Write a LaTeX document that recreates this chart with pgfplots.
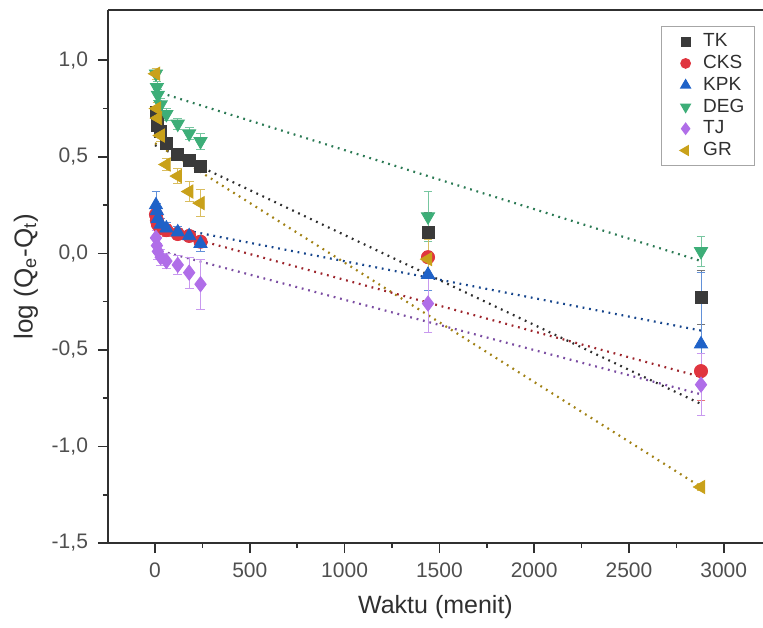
\documentclass[border=0pt]{standalone}
\usepackage{pgfplots}
\pgfplotsset{compat=1.18}
\usepackage{fontspec}
\setmainfont{Liberation Sans}
\definecolor{cTK}{HTML}{3A3A3A}
\definecolor{cCKS}{HTML}{E0353F}
\definecolor{cKPK}{HTML}{1F62C8}
\definecolor{cDEG}{HTML}{3DAE78}
\definecolor{cTJ}{HTML}{B06EE8}
\definecolor{cGR}{HTML}{C9A11A}
\definecolor{axc}{HTML}{303030}

\pgfplotstableread{
x y e
5 0.73 0.03
10 0.70 0.03
15 0.66 0.03
30 0.63 0.03
60 0.57 0.03
120 0.51 0.03
180 0.48 0.03
240 0.45 0.03
1440 0.11 0.10
2880 -0.23 0.14
}\tTK
\pgfplotstableread{
x y e
5 0.20 0.03
10 0.17 0.03
15 0.15 0.03
30 0.13 0.03
60 0.12 0.03
120 0.10 0.03
180 0.09 0.03
240 0.06 0.03
1440 -0.02 0.10
2880 -0.61 0.15
}\tCKS
\pgfplotstableread{
x y e
5 0.25 0.07
10 0.22 0.04
15 0.18 0.03
30 0.15 0.03
60 0.13 0.03
120 0.11 0.03
180 0.09 0.03
240 0.05 0.04
1440 -0.11 0.08
2880 -0.47 0.37
}\tKPK
\pgfplotstableread{
x y e
5 0.93 0.03
10 0.86 0.03
15 0.82 0.03
30 0.77 0.03
60 0.72 0.03
120 0.67 0.03
180 0.62 0.03
240 0.58 0.04
1440 0.19 0.13
2880 0.01 0.08
}\tDEG
\pgfplotstableread{
x y e
5 0.08 0.04
10 0.04 0.04
15 0.01 0.04
30 -0.02 0.04
60 -0.04 0.04
120 -0.06 0.05
180 -0.10 0.08
240 -0.16 0.13
1440 -0.26 0.15
2880 -0.68 0.16
}\tTJ
\pgfplotstableread{
x y e
5 0.93 0.03
10 0.75 0.03
15 0.70 0.03
30 0.61 0.03
60 0.46 0.03
120 0.40 0.04
180 0.32 0.05
240 0.26 0.07
1440 -0.03 0.10
2880 -1.21 0.02
}\tGR

\begin{document}
\begin{tikzpicture}
\begin{axis}[
  name=ax,
  scale only axis,
  width=327.5pt, height=266.5pt,
  xmin=-248, xmax=3207,
  ymin=-1.5, ymax=1.26,
  axis x line*=bottom,
  axis y line*=left,
  axis line style={line width=0.9pt, color=axc},
  tick align=outside,
  major tick length=5pt,
  minor tick length=2.5pt,
  tick style={line width=0.8pt, color=axc},
  xtick={0,500,1000,1500,2000,2500,3000},
  minor x tick num=1,
  ytick={-1.5,-1,-0.5,0,0.5,1},
  minor y tick num=1,
  /pgf/number format/assume math mode=true,
  /pgf/number format/use comma,
  xticklabel style={font=\fontsize{10.5}{12}\selectfont, color=axc!85, yshift=-1.5pt, /pgf/number format/1000 sep={}},
  yticklabel style={font=\fontsize{10.5}{12}\selectfont, color=axc!85, xshift=-1.5pt, /pgf/number format/fixed, /pgf/number format/fixed zerofill, /pgf/number format/precision=1},
  scaled ticks=false,
  xlabel={Waktu (menit)},
  ylabel={log (Q\textsubscript{e}-Q\textsubscript{t})},
  xlabel style={font=\fontsize{12.5}{14}\selectfont, color=axc, yshift=-2pt},
  ylabel style={font=\fontsize{13}{15}\selectfont, color=axc, yshift=0pt},
  legend style={at={(1,1)}, anchor=north east, xshift=-4pt, yshift=-8pt,
    font=\fontsize{9.5}{10}\selectfont, text=axc, draw=gray!70, line width=0.6pt,
    row sep=-1.2pt, inner xsep=3pt, inner ysep=1.5pt, cells={anchor=west}},
  legend image code/.code={%
    \path[draw=none, fill=none] (-9pt,0pt) -- (6.8pt,0pt);
    \draw[#1, /tikz/every mark/.append style={scale=0.72}] plot coordinates {(0pt,0pt)};
  },
  legend cell align=left,
  clip=false,
]
\draw[line width=0.9pt, color=axc] (rel axis cs:0,1) -- (rel axis cs:1,1);

% fitted lines
\addplot[forget plot, cDEG!70!black, line width=1.1pt, dash pattern=on 0.9pt off 2.4pt] coordinates {(0,0.84) (2880,-0.04)};
\addplot[forget plot, cTK!80!black, line width=1.1pt, dash pattern=on 0.9pt off 2.4pt] coordinates {(0,0.56) (2880,-0.78)};
\addplot[forget plot, cGR!80!black, line width=1.1pt, dash pattern=on 0.9pt off 2.4pt] coordinates {(0,0.57) (2880,-1.21)};
\addplot[forget plot, cKPK!70!black, line width=1.1pt, dash pattern=on 0.9pt off 2.4pt] coordinates {(0,0.15) (2880,-0.40)};
\addplot[forget plot, cCKS!70!black, line width=1.1pt, dash pattern=on 0.9pt off 2.4pt] coordinates {(0,0.13) (2880,-0.64)};
\addplot[forget plot, cTJ!70!black, line width=1.1pt, dash pattern=on 0.9pt off 2.4pt] coordinates {(0,0.02) (2880,-0.73)};

\pgfplotsset{
  eb/.style={error bars/.cd, y dir=both, y explicit,
    error bar style={line width=0.4pt, color=#1},
    error mark options={rotate=90, mark size=2.2pt, line width=0.4pt, color=#1}},
}

\addplot[only marks, mark=square*, mark size=3pt, color=cTK, mark options={fill=cTK, draw=cTK}, eb=cTK!70] table[x=x,y=y,y error=e] {\tTK};
\addlegendentry{TK}
\addplot[only marks, mark=*, mark size=3.3pt, color=cCKS, mark options={fill=cCKS, draw=cCKS}, eb=cCKS!70] table[x=x,y=y,y error=e] {\tCKS};
\addlegendentry{CKS}
\addplot[only marks, mark=triangle*, mark size=3.8pt, color=cKPK, mark options={fill=cKPK, draw=cKPK}, eb=cKPK!70] table[x=x,y=y,y error=e] {\tKPK};
\addlegendentry{KPK}
\addplot[only marks, mark=triangle*, mark size=3.8pt, color=cDEG, mark options={fill=cDEG, draw=cDEG, rotate=180}, eb=cDEG!70] table[x=x,y=y,y error=e] {\tDEG};
\addlegendentry{DEG}
\addplot[only marks, mark=diamond*, mark size=3.8pt, color=cTJ, mark options={fill=cTJ, draw=cTJ}, eb=cTJ!70] table[x=x,y=y,y error=e] {\tTJ};
\addlegendentry{TJ}
\addplot[only marks, mark=triangle*, mark size=3.8pt, color=cGR, mark options={fill=cGR, draw=cGR, rotate=90}, eb=cGR!70] table[x=x,y=y,y error=e] {\tGR};
\addlegendentry{GR}
\end{axis}
\pgfresetboundingbox
\path ([shift={(-54pt,-42.5pt)}]ax.south west) rectangle ([shift={(0pt,5pt)}]ax.north east);
\end{tikzpicture}
\end{document}
